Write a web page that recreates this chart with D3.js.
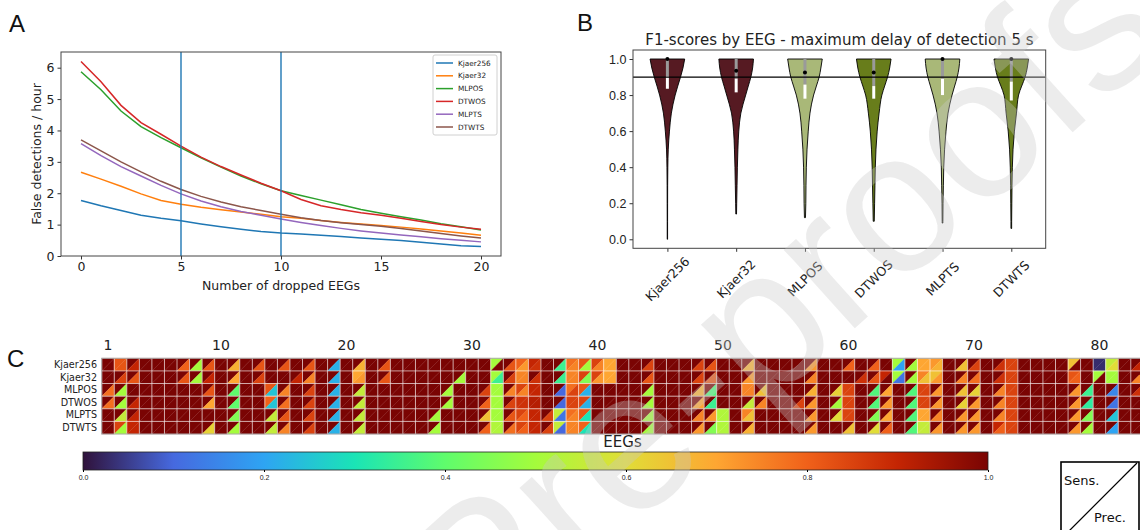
<!DOCTYPE html>
<html><head><meta charset="utf-8">
<script src="https://cdn.jsdelivr.net/npm/d3@7"></script>
<style>
body{margin:0;background:#fff;}
svg{display:block;font-family:"DejaVu Sans",sans-serif;}
</style></head><body>
<svg id="fig" width="1140" height="530"></svg>
<script>
// ---------- shared categories ----------
const methods = ["Kjaer256", "Kjaer32", "MLPOS", "DTWOS", "MLPTS", "DTWTS"];

// ---------- A: false detections per hour vs. dropped EEGs ----------
const droppedEEGs = [0,1,2,3,4,5,6,7,8,9,10,11,12,13,14,15,16,17,18,19,20];
const fdKjaer256 = [1.77,1.60,1.45,1.30,1.20,1.12,1.02,0.93,0.85,0.78,0.73,0.70,0.66,0.62,0.57,0.53,0.49,0.44,0.38,0.33,0.30];
const fdKjaer32  = [2.67,2.45,2.22,1.98,1.77,1.65,1.55,1.47,1.40,1.33,1.25,1.20,1.13,1.07,1.02,0.97,0.92,0.86,0.80,0.73,0.66];
const fdMLPOS    = [5.87,5.30,4.62,4.12,3.77,3.45,3.13,2.83,2.55,2.30,2.08,1.93,1.78,1.63,1.48,1.36,1.25,1.15,1.03,0.93,0.83];
const fdDTWOS    = [6.20,5.55,4.80,4.25,3.88,3.50,3.15,2.85,2.58,2.32,2.08,1.80,1.60,1.48,1.38,1.30,1.20,1.10,1.00,0.92,0.85];
const fdMLPTS    = [3.58,3.20,2.85,2.55,2.25,1.98,1.75,1.57,1.42,1.30,1.18,1.07,0.97,0.88,0.80,0.73,0.67,0.61,0.55,0.50,0.45];
const fdDTWTS    = [3.70,3.35,3.00,2.68,2.38,2.12,1.90,1.72,1.57,1.45,1.33,1.22,1.13,1.06,1.00,0.95,0.88,0.80,0.72,0.64,0.57];
const lineColors = ["#1f77b4","#ff7f0e","#2ca02c","#d62728","#9467bd","#8c564b"];
const markedDrops = [5, 10];
const aXTicks = [0, 5, 10, 15, 20];
const aYTicks = [0, 1, 2, 3, 4, 5, 6];

// ---------- B: F1-score distributions ----------
const violinLevels = [1.0, 0.95, 0.9, 0.85, 0.8, 0.7, 0.6, 0.5, 0.4, 0.3, 0.2, 0.1, 0.0];
const densKjaer256 = [1.00,0.90,0.76,0.60,0.45,0.23,0.12,0.05,0.025,0.015,0.012,0.01,0.01];
const densKjaer32  = [1.00,0.95,0.85,0.70,0.55,0.27,0.15,0.10,0.07,0.05,0.03,0.02,0.02];
const densMLPOS    = [1.00,0.92,0.82,0.66,0.50,0.29,0.19,0.12,0.08,0.06,0.05,0.03,0.03];
const densDTWOS    = [1.00,0.92,0.80,0.63,0.47,0.31,0.20,0.13,0.09,0.07,0.05,0.03,0.03];
const densMLPTS    = [1.00,0.95,0.85,0.70,0.55,0.32,0.20,0.12,0.07,0.05,0.03,0.02,0.02];
const densDTWTS    = [1.00,0.92,0.80,0.60,0.42,0.30,0.18,0.10,0.06,0.04,0.03,0.02,0.02];
const f1Min    = [0.00, 0.14, 0.12, 0.10, 0.09, 0.06];
const f1Median = [1.00, 0.935, 0.925, 0.925, 1.00, 1.00];
const innerHigh = [1.00, 1.00, 1.00, 1.00, 1.00, 1.00];
const innerMid  = [0.905, 0.89, 0.858, 0.85, 0.89, 0.875];
const innerLow  = [0.835, 0.815, 0.78, 0.78, 0.80, 0.77];
const f1Threshold = 0.9;
const violinColors = ["#561a22", "#561a22", "#a9b878", "#687d1b", "#a9b878", "#687d1b"];
const bYTicks = [0.0, 0.2, 0.4, 0.6, 0.8, 1.0];

// ---------- C: per-EEG sensitivity (upper-left) / precision (lower-right) ----------
const eegIds = d3.range(1, 84);
const eegTicks = [1, 10, 20, 30, 40, 50, 60, 70, 80];
const sensKjaer256 = [
 1,.82,1,1,1,1,1,1,1,1,  1,1,1,1,1,1,1,1,1,1,  1,1,1,1,1,1,1,1,1,1,
 1,.5,1,.8,.9,1,1,.78,.82,.85,  .7,1,1,1,1,1,1,1,1,1,  1,1,1,1,1,1,1,1,1,1,
 1,1,1,.5,1,.7,.72,1,1,1,  1,1,.85,1,1,1,1,.65,1,.03,  .55,1,1];
const precKjaer256 = [
 1,.82,.9,1,1,1,.8,.5,.82,1,  .68,1,.82,1,.82,1,.82,1,.22,1,  .68,1,.82,1,1,1,1,1,1,1,
 1,1,.82,.72,.88,1,.35,.75,.5,.75,  .7,1,1,.85,1,1,1,.85,.82,1,  1,.68,1,1,1,1,.72,1,1,.8,
 1,.8,1,.2,.5,.7,.68,1,.65,.85,  1,.88,.85,1,1,1,1,1,1,.03,  .6,1,.9];
const sensKjaer32 = [
 1,1,1,1,1,1,1,1,1,1,  1,1,1,1,1,1,1,1,1,1,  .7,1,1,1,1,1,1,1,1,1,
 1,.5,1,.75,1,1,1,.75,.85,.85,  .7,1,1,1,1,1,1,1,1,1,  1,1,1,1,1,1,1,1,1,1,
 1,1,.9,.5,1,.75,.65,1,1,1,  1,1,.85,1,1,1,1,.82,1,.5,  .5,1,1];
const precKjaer32 = [
 1,.85,.82,1,1,1,.82,.5,.9,1,  .7,1,.85,1,1,.9,.75,1,.22,1,  .72,1,.82,1,1,1,1,1,.5,1,
 1,.35,.85,.75,.88,1,.35,.75,.45,.72,  .7,1,1,.82,1,1,1,.85,.82,1,  1,.72,1,1,1,1,.75,1,1,1,
 .88,.82,1,.12,.5,.65,.72,1,.75,.78,  1,.88,.85,1,1,1,1,.8,1,1,  .5,1,.75];
const sensMLPOS = [
 1,1,1,1,1,1,1,1,1,1,  1,1,1,.82,1,1,1,1,1,1,  1,1,1,1,1,1,1,1,1,1,
 1,.5,1,.85,.9,1,1,.78,.82,1,  1,1,1,1,1,1,1,1,1,1,  1,.75,1,1,1,1,1,1,1,.85,
 1,1,1,1,1,.85,1,1,1,1,  1,1,.85,1,1,1,1,1,1,1,  1,1,1];
const precMLPOS = [
 .78,.5,1,1,1,1,1,1,.82,1,  .4,1,1,.25,.75,1,.85,1,.22,1,  .55,1,1,1,1,1,1,.5,1,1,
 .85,.5,.75,.75,.9,1,.1,.85,.22,1,  1,1,1,.5,1,1,1,.68,.38,1,  1,.75,.65,1,1,1,.68,1,.62,.85,
 1,.38,.7,1,.38,.85,.72,1,.65,.62,  1,.75,.85,1,1,1,1,.72,.35,1,  .15,1,.88];
const sensDTWOS = [
 1,1,1,1,1,1,1,1,1,1,  1,1,1,.8,1,1,1,1,1,1,  1,1,1,1,1,1,1,1,1,1,
 1,.5,1,.88,.92,1,1,.85,.85,1,  1,1,1,1,1,1,1,1,1,1,  1,1,1,1,1,1,1,1,1,.85,
 1,1,1,1,1,.85,1,1,1,1,  1,1,.85,1,1,1,1,1,1,1,  1,1,1];
const precDTWOS = [
 .78,.5,.9,1,1,1,1,1,.7,1,  .4,1,1,.25,.78,1,.85,1,.22,1,  .55,1,1,1,1,1,1,.5,1,1,
 .8,.5,.85,.88,.92,1,.1,.85,.22,1,  1,1,1,.5,1,1,1,.7,.35,1,  1,.55,.75,1,1,.85,.72,1,.5,.85,
 1,.38,.72,1,.38,.85,.72,1,.62,.72,  1,.75,.85,1,1,1,1,.72,.33,1,  .12,1,1];
const sensMLPTS = [
 1,1,1,1,1,1,1,1,1,1,  1,1,1,1,1,1,1,1,1,1,  1,1,1,1,1,1,1,1,1,1,
 1,.5,1,.85,.9,1,.55,.78,.82,1,  1,1,1,1,1,1,1,1,1,.52,  1,.75,1,1,1,1,1,1,1,.85,
 1,1,1,1,1,.7,1,1,1,1,  1,1,.85,1,1,1,1,1,1,1,  1,1,1];
const precMLPTS = [
 1,.55,.9,1,1,1,1,1,1,1,  .45,1,1,.55,.82,1,.85,1,.22,1,  .55,1,1,1,1,1,.5,1,1,1,
 .65,.5,.82,.8,.9,.85,.12,.75,.3,1,  1,1,1,.5,1,1,1,.75,.72,.52,  1,.65,1,1,1,1,.72,1,.6,.85,
 1,.45,.7,1,.38,.7,.75,1,.72,.72,  1,.75,.85,1,1,1,1,.72,.45,1,  .25,1,1];
const sensDTWTS = [
 1,.85,.9,1,1,1,1,1,1,1,  1,1,1,1,1,1,1,1,1,1,  1,1,1,1,1,1,1,1,1,1,
 1,.52,1,.85,.9,1,.55,.75,.8,1,  1,1,1,1,1,1,1,1,1,.52,  1,1,1,1,1,1,1,1,1,1,
 1,1,1,1,1,.55,1,1,1,1,  1,.9,.85,1,1,1,1,1,1,1,  1,1,1];
const precDTWTS = [
 1,.5,.9,1,1,1,1,1,.62,1,  .5,1,1,.55,.75,1,.85,1,.22,1,  .55,1,1,1,1,1,.5,1,1,1,
 .8,.52,.78,.8,.9,.85,.1,.75,.3,1,  1,1,1,.5,1,1,1,.72,.45,.52,  1,.68,1,1,1,1,.72,1,1,.65,
 1,.6,.8,1,.38,.55,.72,1,.72,.72,  1,.8,.85,1,1,1,1,.72,.5,1,  .2,1,1];
const colorbarTicks = [0.0, 0.2, 0.4, 0.6, 0.8, 1.0];

// turbo colour map (matplotlib sampling)
const turboStops = [0, .1, .2, .3, .4, .5, .6, .7, .8, .9, 1];
const turboColors = ["#30123b", "#4669df", "#2ea4f3", "#1ae4b6", "#5ffc6c", "#a4fc3c",
                     "#e1dd37", "#fea632", "#f0611a", "#c42503", "#7a0403"];

// ---------- drawing ----------
const svg = d3.select("#fig");
const txt = "#222";
const turbo = d3.scaleLinear().domain(turboStops).range(turboColors).interpolate(d3.interpolateRgb).clamp(true);

// panel letters
[["A", 9, 32], ["B", 577, 31], ["C", 7, 367]].forEach(([t, x, y]) =>
  svg.append("text").attr("x", x).attr("y", y).attr("font-family", "Liberation Sans, Arial, sans-serif")
     .attr("font-size", 24).attr("fill", "#111").text(t));

// ===== Panel A =====
(function () {
  const x = d3.scaleLinear().domain([-1, 21]).range([61, 501]);
  const y = d3.scaleLinear().domain([0, 6.5]).range([256, 52]);
  const g = svg.append("g");
  const series = [fdKjaer256, fdKjaer32, fdMLPOS, fdDTWOS, fdMLPTS, fdDTWTS];

  const xa = g.append("g").attr("transform", "translate(0,256)")
    .call(d3.axisBottom(x).tickValues(aXTicks).tickFormat(d3.format("d")).tickSize(3.5).tickPadding(3));
  const ya = g.append("g").attr("transform", "translate(61,0)")
    .call(d3.axisLeft(y).tickValues(aYTicks).tickFormat(d3.format("d")).tickSize(3.5).tickPadding(3));
  [xa, ya].forEach(a => {
    a.select(".domain").remove();
    a.selectAll("text").attr("font-size", 12.5).attr("fill", txt).attr("font-family", "DejaVu Sans");
    a.selectAll("line").attr("stroke", "#333");
  });

  const line = d3.line().x((d, i) => x(droppedEEGs[i])).y(d => y(d));
  series.forEach((s, i) => g.append("path").datum(s).attr("d", line)
    .attr("fill", "none").attr("stroke", lineColors[i]).attr("stroke-width", 1.5));

  markedDrops.forEach(v => g.append("line").attr("x1", x(v)).attr("x2", x(v))
    .attr("y1", y.range()[0]).attr("y2", y.range()[1]).attr("stroke", "#1f77b4").attr("stroke-width", 1.4));

  g.append("rect").attr("x", 61).attr("y", 52).attr("width", 440).attr("height", 204)
    .attr("fill", "none").attr("stroke", "#444").attr("stroke-width", 1);

  g.append("text").attr("x", 281).attr("y", 290).attr("text-anchor", "middle")
    .attr("font-size", 12.5).attr("fill", txt).text("Number of dropped EEGs");
  g.append("text").attr("transform", "translate(41,154) rotate(-90)").attr("text-anchor", "middle")
    .attr("font-size", 12.5).attr("fill", txt).text("False detections / hour");

  // legend
  const lg = g.append("g").attr("transform", "translate(433,55)");
  lg.append("rect").attr("width", 64).attr("height", 80).attr("rx", 2)
    .attr("fill", "#fff").attr("fill-opacity", 0.85).attr("stroke", "#d0d0d0");
  methods.forEach((m, i) => {
    const yy = 8 + i * 12.8;
    lg.append("line").attr("x1", 3).attr("x2", 20).attr("y1", yy).attr("y2", yy)
      .attr("stroke", lineColors[i]).attr("stroke-width", 1.5);
    lg.append("text").attr("x", 25).attr("y", yy + 2.6).attr("font-size", 7.3).attr("fill", txt).text(m);
  });
})();

// ===== Panel B =====
(function () {
  const x = d3.scalePoint().domain(methods).range([633, 1045.7]).padding(0.5);
  const y = d3.scaleLinear().domain([-0.05, 1.05]).range([248.3, 50]);
  const w = d3.scaleLinear().domain([0, 1]).range([0, 17.3]);
  const g = svg.append("g");
  const dens = [densKjaer256, densKjaer32, densMLPOS, densDTWOS, densMLPTS, densDTWTS];

  const ya = g.append("g").attr("transform", "translate(633,0)")
    .call(d3.axisLeft(y).tickValues(bYTicks).tickFormat(d3.format(".1f")).tickSize(3.5).tickPadding(3));
  ya.select(".domain").remove();
  ya.selectAll("text").attr("font-size", 12.5).attr("fill", txt);
  ya.selectAll("line").attr("stroke", "#333");

  const xa = g.append("g").attr("transform", "translate(0,248.3)")
    .call(d3.axisBottom(x).tickSize(3.5).tickFormat(""));
  xa.select(".domain").remove();
  xa.selectAll("line").attr("stroke", "#333");
  methods.forEach(m => g.append("text")
    .attr("transform", `translate(${x(m)},279) rotate(-45)`)
    .attr("text-anchor", "middle").attr("dy", "0.35em")
    .attr("font-size", 12.5).attr("fill", txt).text(m));

  methods.forEach((m, i) => {
    const cx = x(m);
    const pts = violinLevels.map((v, k) => ({ v, d: dens[i][k] })).filter(p => p.v > f1Min[i]);
    pts.push({ v: f1Min[i], d: dens[i][dens[i].length - 1] });
    const area = d3.area().curve(d3.curveMonotoneY)
      .y(p => y(p.v)).x0(p => cx - w(p.d)).x1(p => cx + w(p.d));
    g.append("path").datum(pts).attr("d", area)
      .attr("fill", violinColors[i]).attr("stroke", "#000").attr("stroke-width", 0.9);
    g.append("line").attr("x1", cx).attr("x2", cx).attr("y1", y(innerHigh[i])).attr("y2", y(innerMid[i]))
      .attr("stroke", "#9a9a9a").attr("stroke-width", 3);
    g.append("line").attr("x1", cx).attr("x2", cx).attr("y1", y(innerMid[i])).attr("y2", y(innerLow[i]))
      .attr("stroke", "#fff").attr("stroke-width", 3);
    g.append("circle").attr("cx", cx).attr("cy", y(f1Median[i])).attr("r", 2).attr("fill", "#000");
  });

  g.append("line").attr("x1", 633).attr("x2", 1045.7).attr("y1", y(f1Threshold)).attr("y2", y(f1Threshold))
    .attr("stroke", "#000").attr("stroke-width", 1.3);
  g.append("rect").attr("x", 633).attr("y", 50).attr("width", 412.7).attr("height", 198.3)
    .attr("fill", "none").attr("stroke", "#444").attr("stroke-width", 1);
  g.append("text").attr("x", 839.4).attr("y", 45).attr("text-anchor", "middle")
    .attr("font-size", 15).attr("fill", txt).text("F1-scores by EEG - maximum delay of detection 5 s");
})();

// ===== Panel C =====
(function () {
  const x = d3.scaleBand().domain(eegIds).range([101.7, 101.7 + 83 * 12.55]);
  const y = d3.scaleBand().domain(methods).range([358.3, 434]);
  const sens = [sensKjaer256, sensKjaer32, sensMLPOS, sensDTWOS, sensMLPTS, sensDTWTS];
  const prec = [precKjaer256, precKjaer32, precMLPOS, precDTWOS, precMLPTS, precDTWTS];
  const g = svg.append("g");
  const cw = x.bandwidth(), ch = y.bandwidth();

  methods.forEach((m, r) => {
    eegIds.forEach((e, c) => {
      const x0 = x(e), y0 = y(m);
      g.append("path").attr("d", `M${x0},${y0}H${x0 + cw}L${x0},${y0 + ch}Z`)
        .attr("fill", turbo(sens[r][c])).attr("stroke", turbo(sens[r][c])).attr("stroke-width", 0.3);
      g.append("path").attr("d", `M${x0 + cw},${y0}V${y0 + ch}H${x0}Z`)
        .attr("fill", turbo(prec[r][c])).attr("stroke", turbo(prec[r][c])).attr("stroke-width", 0.3);
    });
  });
  // cell grid
  eegIds.concat([84]).forEach((e, i) => {
    const xx = 101.7 + i * cw;
    g.append("line").attr("x1", xx).attr("x2", xx).attr("y1", 358.3).attr("y2", 434)
      .attr("stroke", "#fff").attr("stroke-opacity", 0.7).attr("stroke-width", 0.9);
  });
  methods.forEach((m, i) => {
    if (i === 0) return;
    g.append("line").attr("x1", 101.7).attr("x2", 1143).attr("y1", y(m)).attr("y2", y(m))
      .attr("stroke", "#fff").attr("stroke-opacity", 0.7).attr("stroke-width", 0.9);
  });
  g.append("rect").attr("x", 101.7).attr("y", 358.3).attr("width", 83 * cw).attr("height", 75.7)
    .attr("fill", "none").attr("stroke", "#aaa").attr("stroke-width", 1);

  methods.forEach(m => g.append("text").attr("x", 97).attr("y", y(m) + ch / 2).attr("dy", "0.35em")
    .attr("text-anchor", "end").attr("font-size", 9.6).attr("fill", txt).text(m));
  eegTicks.forEach(t => g.append("text").attr("x", x(t) + cw / 2).attr("y", 350)
    .attr("text-anchor", "middle").attr("font-size", 14).attr("fill", txt).text(t));
  g.append("text").attr("x", 622.5).attr("y", 447).attr("text-anchor", "middle")
    .attr("font-size", 15).attr("fill", txt).text("EEGs");

  // colour bar
  const cb = d3.scaleLinear().domain([0, 1]).range([83, 988]);
  const grad = svg.append("defs").append("linearGradient").attr("id", "turboGrad");
  turboStops.forEach((t, i) => grad.append("stop")
    .attr("offset", `${t * 100}%`).attr("stop-color", turboColors[i]));
  g.append("rect").attr("x", 83).attr("y", 452).attr("width", 905).attr("height", 18)
    .attr("fill", "url(#turboGrad)").attr("stroke", "#222").attr("stroke-width", 0.8);
  const ca = g.append("g").attr("transform", "translate(0,470)")
    .call(d3.axisBottom(cb).tickValues(colorbarTicks).tickFormat(d3.format(".1f")).tickSize(2).tickPadding(3));
  ca.select(".domain").remove();
  ca.selectAll("text").attr("font-size", 7).attr("fill", txt);

  // triangle key
  const k = g.append("g");
  k.append("rect").attr("x", 1061).attr("y", 462).attr("width", 78).attr("height", 80)
    .attr("fill", "#fff").attr("stroke", "#000").attr("stroke-width", 1.6);
  k.append("line").attr("x1", 1068).attr("y1", 532).attr("x2", 1137).attr("y2", 463)
    .attr("stroke", "#000").attr("stroke-width", 1.2);
  k.append("text").attr("x", 1064).attr("y", 485).attr("font-size", 13).attr("fill", "#111").text("Sens.");
  k.append("text").attr("x", 1094).attr("y", 522).attr("font-size", 13).attr("fill", "#111").text("Prec.");
})();

// faint sheet mark across the figure
svg.append("text").attr("transform", "translate(1175,40) rotate(-42)")
  .attr("text-anchor", "end").attr("font-family", "Liberation Sans, Arial, sans-serif")
  .attr("font-size", 200).attr("fill", "#c8c8c8").attr("fill-opacity", 0.35)
  .attr("pointer-events", "none").text("Journal Pre-proofs");
</script>
</body></html>
